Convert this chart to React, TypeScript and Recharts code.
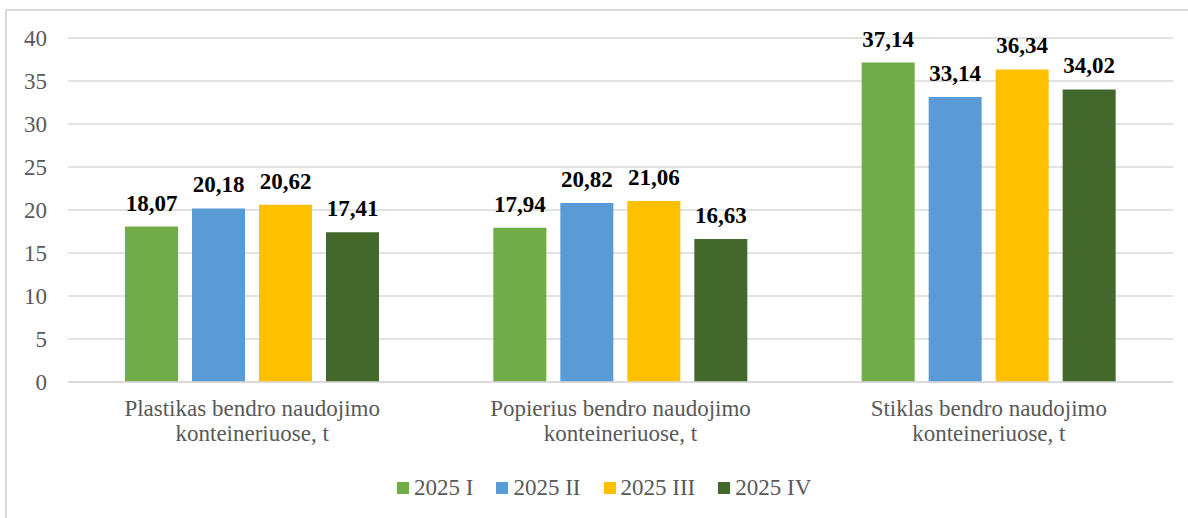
import { BarChart, Bar, XAxis, YAxis, CartesianGrid, LabelList } from 'recharts';

const categories = [
  'Plastikas bendro naudojimo konteineriuose, t',
  'Popierius bendro naudojimo konteineriuose, t',
  'Stiklas bendro naudojimo konteineriuose, t',
];
const q1 = [18.07, 17.94, 37.14];
const q2 = [20.18, 20.82, 33.14];
const q3 = [20.62, 21.06, 36.34];
const q4 = [17.41, 16.63, 34.02];
const yTicks = [0, 5, 10, 15, 20, 25, 30, 35, 40];

const series = [
  { key: 'q1', name: '2025 I', color: '#70ad47' },
  { key: 'q2', name: '2025 II', color: '#5b9bd5' },
  { key: 'q3', name: '2025 III', color: '#ffc000' },
  { key: 'q4', name: '2025 IV', color: '#43682b' },
];

const data = categories.map((name, i) => ({
  name,
  q1: q1[i],
  q2: q2[i],
  q3: q3[i],
  q4: q4[i],
}));

const FONT = '"Liberation Serif", "Times New Roman", serif';
const GRAY = '#595959';

const fmt = (v: any) => Number(v).toFixed(2).replace('.', ',');

function CategoryTick({ x, y, payload }: any) {
  const words = String(payload.value).split(' ');
  const line1 = words.slice(0, 3).join(' ');
  const line2 = words.slice(3).join(' ');
  return (
    <g>
      <text x={x} y={y + 34} textAnchor="middle" fill={GRAY} fontSize={23} fontFamily={FONT}>
        {line1}
      </text>
      <text x={x} y={y + 59} textAnchor="middle" fill={GRAY} fontSize={23} fontFamily={FONT}>
        {line2}
      </text>
    </g>
  );
}

export default function App() {
  return (
    <div style={{ position: 'absolute', left: 0, top: 0, width: 1188, height: 518, overflow: 'hidden', background: '#fff' }}>
      <div
        style={{
          position: 'absolute',
          left: 5,
          top: 9,
          width: 1200,
          height: 520,
          borderLeft: '2px solid #d9d9d9',
          borderTop: '2px solid #d9d9d9',
        }}
      />
      <div style={{ position: 'absolute', left: 0, top: 0 }}>
        <BarChart
          width={1188}
          height={518}
          data={data}
          margin={{ top: 38, right: 15, left: 8, bottom: 56 }}
          barGap={14}
        >
          <CartesianGrid vertical={false} stroke="#d9d9d9" strokeWidth={1.5} />
          <XAxis
            dataKey="name"
            height={80}
            tickLine={false}
            tickSize={0}
            tickMargin={0}
            axisLine={{ stroke: '#d9d9d9', strokeWidth: 1.5 }}
            tick={<CategoryTick />}
            interval={0}
          />
          <YAxis
            width={60}
            domain={[0, 40]}
            ticks={yTicks}
            interval={0}
            axisLine={false}
            tickLine={false}
            tickSize={0}
            tickMargin={21}
            tick={{ fill: GRAY, fontSize: 23, fontFamily: FONT }}
          />
          {series.map((s) => (
            <Bar key={s.key} dataKey={s.key} name={s.name} fill={s.color} barSize={53} isAnimationActive={false}>
              <LabelList
                dataKey={s.key}
                position="top"
                offset={16}
                formatter={fmt}
                style={{ fill: '#000', fontSize: 23, fontWeight: 'bold', fontFamily: FONT }}
              />
            </Bar>
          ))}
        </BarChart>
      </div>
      <div
        style={{
          position: 'absolute',
          left: 397,
          top: 474,
          display: 'flex',
          alignItems: 'center',
          fontFamily: FONT,
          fontSize: 23,
          color: GRAY,
          whiteSpace: 'nowrap',
        }}
      >
        {series.map((s) => (
          <div key={s.key} style={{ display: 'flex', alignItems: 'center', marginRight: 23 }}>
            <span style={{ display: 'inline-block', width: 12, height: 12, background: s.color }} />
            <span style={{ marginLeft: 5, lineHeight: '28px' }}>{s.name}</span>
          </div>
        ))}
      </div>
    </div>
  );
}
